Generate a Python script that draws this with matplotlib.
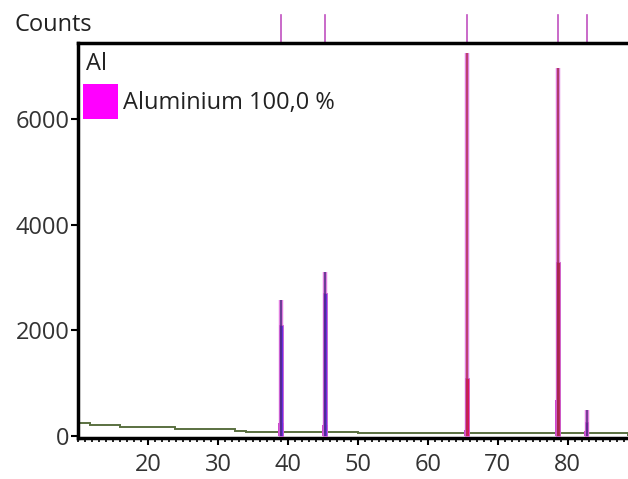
import matplotlib
matplotlib.use('Agg')
from matplotlib import pyplot as plt
from matplotlib.patches import Rectangle
from matplotlib.ticker import MultipleLocator, FixedLocator
import matplotlib.transforms as mtransforms

plt.rcParams['font.family'] = ['Open Sans', 'DejaVu Sans']

# peak data (2theta, counts)
peak_pos  = [39.0, 45.3, 65.6, 78.6, 82.7]
peak_top  = [2580, 3110, 7260, 6980, 490]
peak_mid  = [2100, 2710, 1100, 3300, 265]
peak_low  = [250, 200, 120, 680, 100]
peak_fill = ['#6b2ee0', '#6b2ee0', '#e0105a', '#b8285a', '#7a30c0']
peak_line = ['#4a2a80', '#4a2a80', '#b03050', '#a02848', '#5a2a80']

# background steps
bg_edges  = [10, 11.7, 16, 23.9, 32.4, 34, 50, 70, 88.6]
bg_counts = [246, 209, 171, 133, 95, 76, 62, 55]

x_ticks = [20, 30, 40, 50, 60, 70, 80]
y_ticks = [0, 2000, 4000, 6000]

fig = plt.figure(figsize=(6.28, 4.79), dpi=100)
ax = fig.add_axes([78/628, 41/479, 550/628, 395/479])

# background line
ax.stairs(bg_counts, bg_edges, color='#5a7040', linewidth=1.4, zorder=2)

for x, top, mid, low, fc, lc in zip(peak_pos, peak_top, peak_mid, peak_low, peak_fill, peak_line):
    ax.bar(x, low, width=0.75, color='#c838c8', zorder=3)
    ax.vlines(x, 0, top, color='#e080e0', linewidth=3.2, zorder=3)
    ax.bar(x, mid, width=0.45, color=fc, edgecolor='#d060d0', linewidth=0.6, zorder=4)
    ax.vlines(x, 0, top, color=lc, linewidth=1.1, zorder=5)

# reference markers above the plot
trans = mtransforms.blended_transform_factory(ax.transData, ax.transAxes)
for x in peak_pos:
    ax.plot([x, x], [1.0, 1.072], transform=trans, color='#c050c0',
            linewidth=1.2, clip_on=False, zorder=1)

ax.set_xlim(10, 88.6)
ax.set_ylim(-38, 7450)
ax.xaxis.set_major_locator(FixedLocator(x_ticks))
ax.xaxis.set_minor_locator(MultipleLocator(1))
ax.yaxis.set_major_locator(FixedLocator(y_ticks))
ax.tick_params(axis='both', which='major', direction='out', length=5, width=1.5,
               labelsize=17, colors='black', labelcolor='#333333')
ax.tick_params(axis='x', which='minor', direction='out', length=3, width=1.2)
ax.tick_params(axis='x', pad=6)
ax.tick_params(axis='y', pad=1)

for side in ['left', 'top', 'bottom']:
    ax.spines[side].set_linewidth(2.5)
ax.spines['right'].set_visible(False)

fig.text(15/628, 1 - 25/479, 'Counts', fontsize=17, color='#222222', va='center', ha='left')
fig.text(86/628, 1 - 64/479, 'Al', fontsize=17, color='#222222', va='center', ha='left')
fig.add_artist(Rectangle((83/628, 1 - 119/479), 35/628, 35/479,
                         transform=fig.transFigure, facecolor='#ff00ff', edgecolor='none'))
fig.text(123/628, 1 - 103/479, 'Aluminium 100,0 %', fontsize=17, color='#222222',
         va='center', ha='left')

fig.savefig('out.png', dpi=100)
